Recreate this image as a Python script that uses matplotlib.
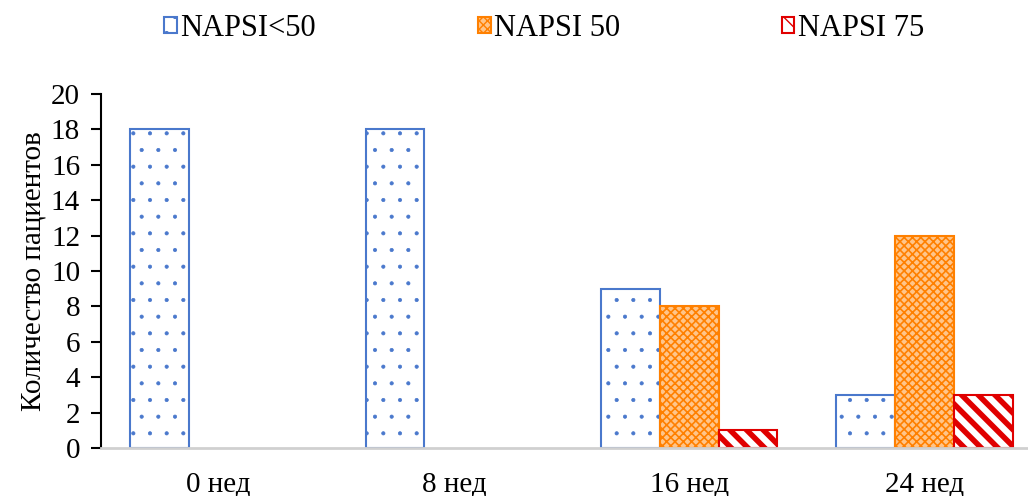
import numpy as np
import matplotlib.pyplot as plt
from matplotlib.patches import Patch

plt.rcParams['font.family'] = ['Liberation Serif', 'DejaVu Serif']

# data
weeks = ['0 нед', '8 нед', '16 нед', '24 нед']
napsi_lt50 = [18, 18, 9, 3]
napsi_50 = [0, 0, 8, 12]
napsi_75 = [0, 0, 1, 3]

fig = plt.figure(figsize=(10.28, 4.96), dpi=100)
ax = fig.add_axes([101 / 1028, 48 / 496, 941 / 1028, 354 / 496])

x = np.arange(len(weeks))
w = 0.25

styles = [
    dict(facecolor='white', edgecolor='#4A78CC', hatch='.', linewidth=1.5),
    dict(facecolor='#FFC58A', edgecolor='#FF8000', hatch='xxxx', linewidth=1.5),
    dict(facecolor='white', edgecolor='#E00000', hatch='\\\\', linewidth=1.5),
]
hatch_rc = [
    {'hatch.linewidth': 0.5, 'hatch.color': '#4A78CC'},
    {'hatch.linewidth': 1.2, 'hatch.color': '#FF8000'},
    {'hatch.linewidth': 4.0, 'hatch.color': '#E00000'},
]
series = [napsi_lt50, napsi_50, napsi_75]
names = ['NAPSI<50', 'NAPSI 50', 'NAPSI 75']

handles = []
for i, (vals, name) in enumerate(zip(series, names)):
    with plt.rc_context(hatch_rc[i]):
        bars = ax.bar(x + (i - 1) * w, vals, w, label=name, **styles[i])
        handles.append(Patch(label=name, **styles[i]))
    # empty bars are not drawn at all in the original
    for p in bars.patches:
        if p.get_height() == 0:
            p.set_visible(False)

ax.set_xlim(-0.5, 3.5)
ax.set_ylim(0, 20)
ax.set_yticks(range(0, 21, 2))
ax.set_xticks(x)
ax.set_xticklabels(weeks)
ax.tick_params(axis='x', length=0, pad=17, labelsize=21)
ax.tick_params(axis='y', length=7, width=1.5, labelsize=21, pad=8, direction='out')
ax.set_ylabel('Количество пациентов', fontsize=21, labelpad=3)

for s in ['top', 'right']:
    ax.spines[s].set_visible(False)
ax.spines['left'].set_linewidth(1.5)
ax.spines['bottom'].set_color('#D0D0D0')
ax.spines['bottom'].set_linewidth(2)

fig.legend(handles=handles, loc='center', bbox_to_anchor=(544 / 1028, 1 - 28 / 496),
           ncol=3, frameon=False, fontsize=22, handlelength=0.42, handleheight=0.42,
           handletextpad=0.1, columnspacing=5.3, borderpad=0)

fig.savefig('out.png', dpi=100)
